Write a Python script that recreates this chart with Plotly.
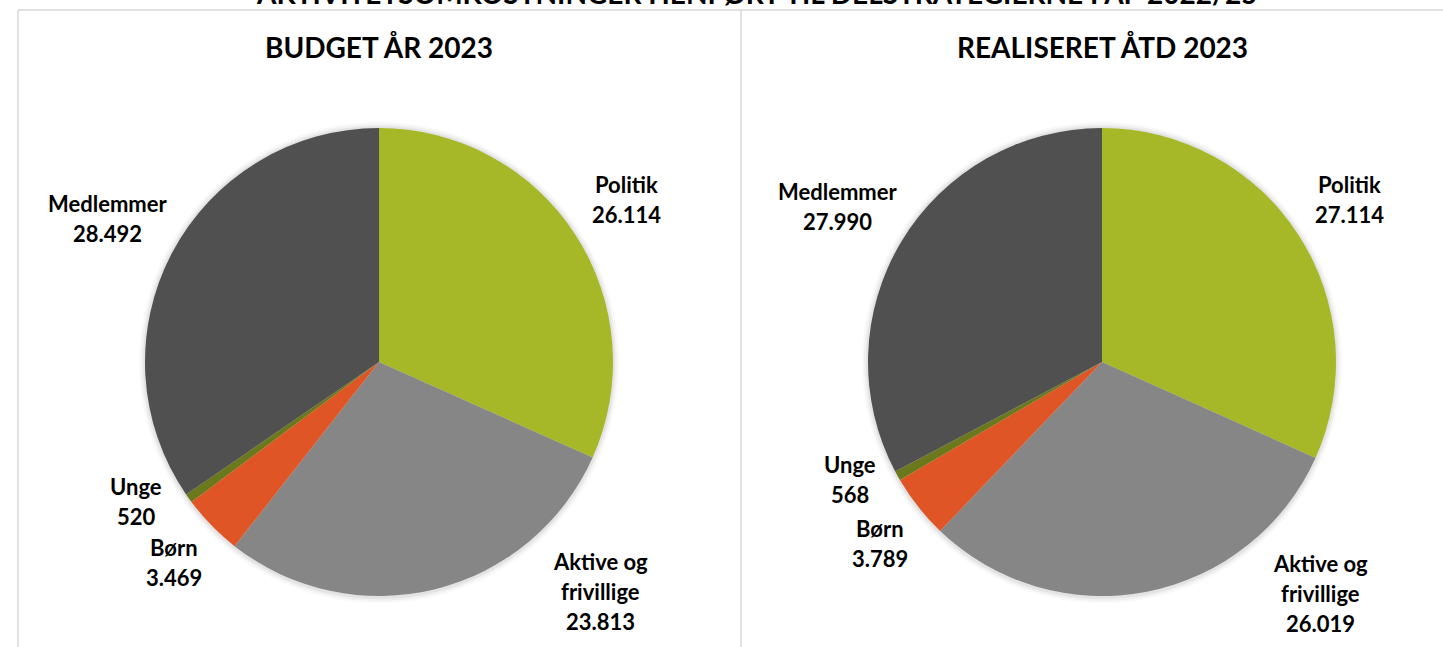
import math
import plotly.graph_objects as go

# ---------------- data ----------------
categories = ["Politik", "Aktive og frivillige", "Børn", "Unge", "Medlemmer"]
budget_2023 = [26114, 23813, 3469, 520, 28492]
realiseret_2023 = [27114, 26019, 3789, 568, 27990]
panel_titles = ["BUDGET ÅR 2023", "REALISERET ÅTD 2023"]
main_title = "AKTIVITETSOMKOSTNINGER HENFØRT TIL DELSTRATEGIERNE I AP 2022/25"

colors = ["#A6B828", "#868686", "#E05525", "#6B781C", "#505050"]

W, H = 1443, 647
FONT = "Lato"
LABEL_FS = 22
LINE_H = 30

# pie geometry (pixels)
pies = [dict(cx=379, cy=362, r=234), dict(cx=1102, cy=362, r=234)]


def px2paper(x, y):
    return x / W, 1 - y / H


def fmt(v):
    return f"{v:,}".replace(",", ".")


def wrap(name):
    return name.replace(" og ", " og\n")


def label_positions(values, cx, cy, r):
    total = sum(values)
    cum = 0
    items = []
    for name, v in zip(categories, values):
        a = (cum + v / 2) / total * 360
        cum += v
        lines = wrap(name).split("\n") + [fmt(v)]
        w = max(len(s) for s in lines) * LABEL_FS * 0.56
        h = len(lines) * LINE_H
        items.append(dict(a=a, w=w, h=h, lines=lines))

    gap = 10

    def center(it):
        rad = math.radians(it["a"])
        ux, uy = math.sin(rad), -math.cos(rad)
        sx = 0 if abs(ux) < 1e-9 else math.copysign(1, ux)
        sy = 0 if abs(uy) < 1e-9 else math.copysign(1, uy)
        return (cx + (r + gap) * ux + sx * it["w"] / 2,
                cy + (r + gap) * uy + sy * it["h"] / 2)

    def box(it, pad=0):
        x, y = center(it)
        return (x - it["w"] / 2 - pad, y - it["h"] / 2, x + it["w"] / 2 + pad, y + it["h"] / 2)

    def overlap(b1, b2):
        return not (b1[2] <= b2[0] or b2[2] <= b1[0] or b1[3] <= b2[1] or b2[3] <= b1[1])

    ymax = H - 8
    for it in items:
        guard = 0
        while box(it)[3] > ymax and guard < 180:
            it["a"] += -1 if it["a"] < 180 else 1
            guard += 1
    for i in range(1, len(items)):
        guard = 0
        while overlap(box(items[i], 8), box(items[i - 1], 8)) and guard < 60:
            items[i]["a"] += 1
            guard += 1
    return [(center(it), it["lines"]) for it in items]


fig = go.Figure()
annotations = []
shapes = []

for p, vals, title in zip(pies, [budget_2023, realiseret_2023], panel_titles):
    cx, cy, r = p["cx"], p["cy"], p["r"]
    x0, y1 = px2paper(cx - r, cy - r)
    x1, y0 = px2paper(cx + r, cy + r)
    fig.add_trace(go.Pie(
        labels=categories, values=vals, sort=False, direction="clockwise",
        rotation=0, textinfo="none", hole=0,
        marker=dict(colors=colors, line=dict(width=0)),
        domain=dict(x=[x0, x1], y=[y0, y1]), showlegend=False,
        hovertemplate="%{label}: %{value:,}<extra></extra>",
    ))
    # soft shadow
    for k, op in [(6, 0.025), (4, 0.035), (2, 0.05)]:
        sx0, sy1 = px2paper(cx - r - k, cy - r - k)
        sx1, sy0 = px2paper(cx + r + k, cy + r + k + 1)
        shapes.append(dict(type="circle", xref="paper", yref="paper",
                           x0=sx0, x1=sx1, y0=sy0, y1=sy1,
                           fillcolor=f"rgba(0,0,0,{op})", line=dict(width=0),
                           layer="below"))
    tx, ty = px2paper(cx, 47)
    annotations.append(dict(text=f"<b>{title}</b>", x=tx, y=ty, xref="paper", yref="paper",
                            showarrow=False, xanchor="center", yanchor="middle",
                            font=dict(family=FONT, size=28, color="#000000")))
    for (lx, ly), lines in label_positions(vals, cx, cy, r):
        n = len(lines)
        for k, line in enumerate(lines):
            yy = ly + (k - (n - 1) / 2) * LINE_H
            ax, ay = px2paper(lx, yy)
            annotations.append(dict(text=f"<b>{line}</b>", x=ax, y=ay,
                                    xref="paper", yref="paper",
                                    showarrow=False, xanchor="center", yanchor="middle",
                                    font=dict(family=FONT, size=LABEL_FS, color="#000000")))

# main title (partially cut off at the top, as in the original)
mx, my = px2paper(756, 12)
annotations.append(dict(text=f"<b>{main_title}</b>", x=mx, y=my, xref="paper", yref="paper",
                        showarrow=False, xanchor="center", yanchor="bottom",
                        font=dict(family=FONT, size=28, color="#000000")))

# panel borders
bc = "#D9D9D9"
for (xa, ya, xb, yb) in [(18, 10, W, 10), (18, 10, 18, H), (741, 10, 741, H)]:
    pa = px2paper(xa, ya)
    pb = px2paper(xb, yb)
    shapes.append(dict(type="line", xref="paper", yref="paper",
                       x0=pa[0], y0=pa[1], x1=pb[0], y1=pb[1],
                       line=dict(color=bc, width=1.5)))

fig.update_layout(
    width=W, height=H,
    margin=dict(l=0, r=0, t=0, b=0),
    paper_bgcolor="#FFFFFF", plot_bgcolor="#FFFFFF",
    annotations=annotations, shapes=shapes,
    font=dict(family=FONT),
)

fig.write_html("out.html", config={"displayModeBar": False},
               post_script="document.body.style.margin='0';document.body.style.overflow='hidden';")
